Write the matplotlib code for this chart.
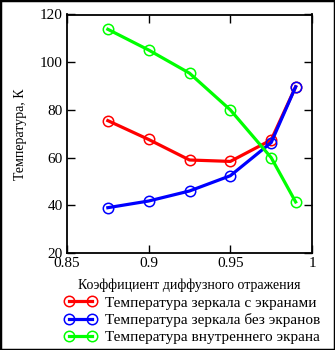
import matplotlib
matplotlib.use("Agg")
import matplotlib.pyplot as plt
from matplotlib.patches import Rectangle

plt.rcParams['font.family'] = ['Liberation Serif', 'DejaVu Serif']
plt.rcParams['font.size'] = 11

# Diffuse reflection coefficient
x = [0.875, 0.9, 0.925, 0.95, 0.975, 0.99]
# Temperatures, K
t_mirror_screens = [75.5, 67.6, 59.0, 58.4, 67.4, 89.7]
t_mirror_no_screens = [39.0, 41.8, 46.0, 52.4, 66.3, 89.7]
t_inner_screen = [113.8, 105.1, 95.4, 80.0, 60.0, 41.4]

series = [
    (t_mirror_screens, '#ff0000', 'Температура зеркала с экранами'),
    (t_mirror_no_screens, '#0000ff', 'Температура зеркала без экранов'),
    (t_inner_screen, '#00ff00', 'Температура внутреннего экрана'),
]

xticks = [0.85, 0.9, 0.95, 1.0]
xtick_labels = ['0.85', '0.9', '0.95', '1']
yticks = [20, 40, 60, 80, 100, 120]

W, H = 335, 350
fig = plt.figure(figsize=(W / 100, H / 100), dpi=100)
ax = fig.add_axes([67 / W, 1 - 253 / H, (312 - 67) / W, (253 - 14.5) / H])

handles = []
for vals, color, label in series:
    h, = ax.plot(x, vals, color=color, lw=2.3, marker='o', markersize=7.5,
                 markerfacecolor='none', markeredgecolor=color,
                 markeredgewidth=1.1, label=label)
    handles.append(h)

ax.set_xlim(0.85, 1.0)
ax.set_ylim(20, 120)
ax.set_xticks(xticks)
ax.set_xticklabels(xtick_labels)
ax.set_yticks(yticks)
ax.tick_params(direction='in', length=6, width=1.0, top=True, right=True,
               labelsize=11, pad=3)
for s in ax.spines.values():
    s.set_linewidth(1.3)

ax.set_xlabel('Коэффициент диффузного отражения', fontsize=10, labelpad=6)
ax.set_ylabel('Температура, К', fontsize=10, labelpad=9)

fig.legend(handles=handles, loc='upper left',
           bbox_to_anchor=(64 / W, 1 - 296 / H), frameon=False,
           numpoints=2, handlelength=2.1, handletextpad=0.6,
           labelspacing=0.22, borderpad=0, borderaxespad=0, fontsize=11)

fig.patches.append(Rectangle((0, 0), 1, 1, transform=fig.transFigure,
                             fill=False, edgecolor='black', lw=2.5))

fig.savefig('out.png', dpi=100)
